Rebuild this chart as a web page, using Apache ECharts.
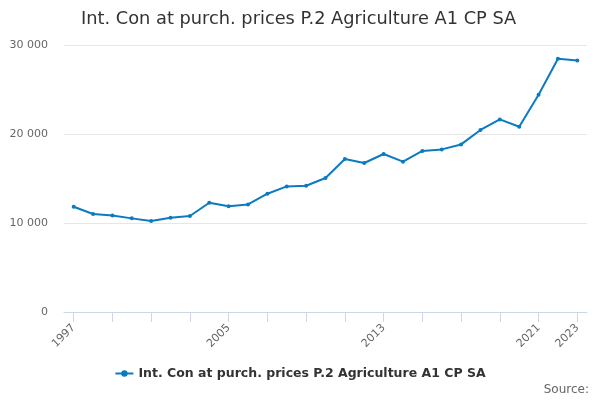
<!DOCTYPE html>
<html><head><meta charset="utf-8">
<script src="https://cdn.jsdelivr.net/npm/echarts@6/dist/echarts.min.js"></script>
<style>html,body{margin:0;padding:0;background:#fff}#c{width:600px;height:400px}</style>
</head><body><div id="c"></div>
<script>
const years = ['1997','1998','1999','2000','2001','2002','2003','2004','2005','2006','2007','2008','2009','2010','2011','2012','2013','2014','2015','2016','2017','2018','2019','2020','2021','2022','2023'];
const values = [11830,11010,10850,10520,10220,10600,10790,12280,11870,12090,13290,14110,14190,15050,17190,16740,17750,16890,18090,18270,18830,20450,21640,20820,24420,28460,28270];
const labelYears = ['1997','2005','2013','2021','2023'];
const seriesName = 'Int. Con at purch. prices P.2 Agriculture A1 CP SA';
const titleText = 'Int. Con at purch. prices P.2 Agriculture A1 CP SA';
const FONT = 'DejaVu Sans';
const chart = echarts.init(document.getElementById('c'));
chart.setOption({
  animation:false,
  textStyle:{fontFamily:FONT},
  title:{text:titleText,left:76,top:5,textStyle:{fontFamily:FONT,fontSize:17.8,fontWeight:'normal',color:'#333'}},
  graphic:[{type:'text',right:11,top:384,style:{text:'Source:',font:'12px "DejaVu Sans"',fill:'#666'}}],
  legend:{bottom:15,left:'center',itemWidth:18,itemHeight:8,textStyle:{fontFamily:FONT,fontSize:12.5,fontWeight:'bold',color:'#333'},data:[seriesName]},
  grid:{left:64,right:13,top:45,bottom:88,containLabel:false},
  xAxis:{type:'category',data:years,boundaryGap:true,
    axisLine:{lineStyle:{color:'#ccd6eb'}},
    axisTick:{show:true,alignWithLabel:true,length:10,lineStyle:{color:'#ccd6eb'},interval:1},
    axisLabel:{rotate:45,color:'#666',fontSize:11,fontFamily:FONT,margin:14,interval:(i,v)=>labelYears.includes(v)}},
  yAxis:{type:'value',min:0,max:30000,interval:10000,
    axisLine:{show:false},axisTick:{show:false},
    splitLine:{lineStyle:{color:'#e6e6e6'}},
    axisLabel:{color:'#666',fontSize:11,fontFamily:FONT,margin:16,formatter:v=>v===0?'0':String(v).replace(/\B(?=(\d{3})+(?!\d))/g,' ')}},
  series:[{name:seriesName,type:'line',data:values,symbol:'circle',symbolSize:4,showSymbol:true,
    lineStyle:{width:2,color:'#0b7bc1'},itemStyle:{color:'#0b7bc1'}}]
});
</script></body></html>
